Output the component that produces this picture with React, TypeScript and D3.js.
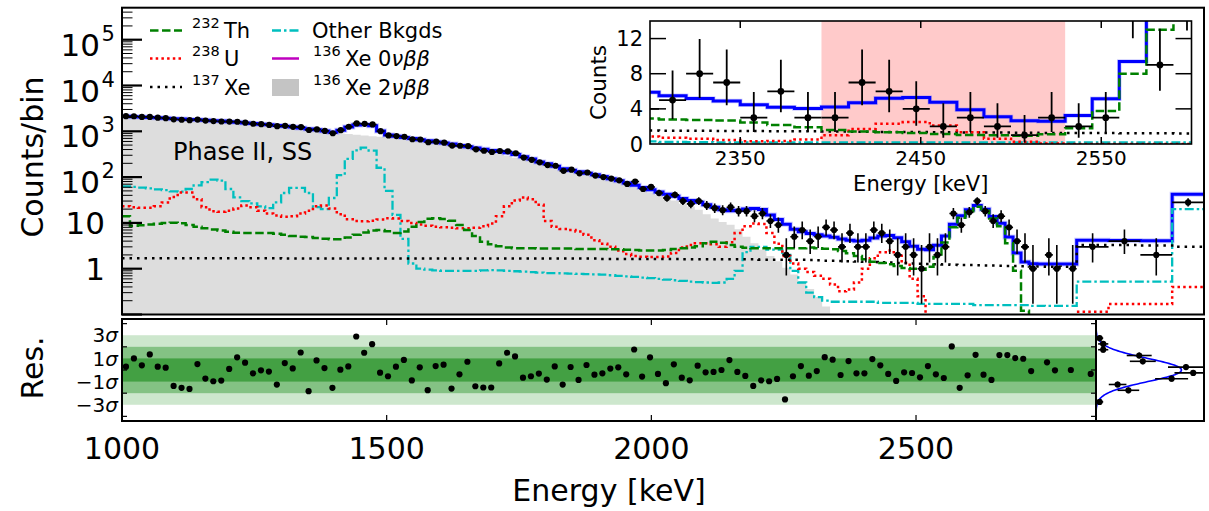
import React from 'react';
import * as d3 from 'd3';

const FONT = '"DejaVu Sans", Verdana, sans-serif';

// Binning: 15 keV bins from 1000 keV up to 2810 keV, then four wide bins
const fineStart = 1000;
const fineWidth = 15;
const fineCount = 120;
const wideEdges = [2860, 2920, 2980, 3040];

// Observed counts per bin
const dataFine = [
  2138, 2131, 2063, 2065, 1983, 1939, 1830, 1789, 1746, 1802,
  1714, 1670, 1638, 1629, 1618, 1545, 1462, 1429, 1380, 1294,
  1317, 1250, 1237, 1068, 1102, 1020, 907, 1056, 1256, 1487,
  1456, 1411, 1008, 814, 788, 760, 671, 662, 577, 594,
  565, 488, 484, 476, 404, 376, 353, 372, 366, 332,
  267, 239, 210, 183, 177, 137, 145, 121, 126, 108,
  100, 93, 85, 71, 80, 55, 61, 45, 35, 41,
  30, 26, 30, 24, 21, 19, 22, 18, 18, 14,
  16, 11, 9, 2, 5, 7, 4, 5, 8, 7,
  3, 6, 3, 3, 7, 6, 4, 2, 3, 2,
  1, 3, 2, 3, 16, 9, 17, 30, 18, 11,
  14, 8, 4, 3, 1, 0, 2, 1, 0, 1,
];
const dataWide = [3, 4, 2, 28];

// Best-fit total model
const totalFine = [
  2125, 2085, 2045, 2005, 1970, 1930, 1890, 1855, 1815, 1780,
  1745, 1710, 1675, 1625, 1575, 1520, 1473, 1430, 1385, 1340,
  1295, 1245, 1185, 1130, 1075, 1015, 955, 1055, 1245, 1380,
  1400, 1330, 1015, 830, 780, 736, 695, 656, 620, 586,
  554, 525, 492, 461, 433, 406, 383, 361, 339, 311,
  278, 248, 215, 195, 173, 153, 142, 131, 121, 112,
  103, 92, 83, 74, 66, 59, 53, 47.4, 42.5, 38,
  34, 31, 28.2, 24.8, 21.9, 19.3, 18.4, 18.8, 20.2, 20.7,
  19.5, 14.9, 11.9, 9.3, 7.3, 6.4, 5.9, 5.5, 5.19, 4.89,
  4.48, 4.19, 4.05, 4.2, 4.7, 5.2, 5.3, 4.75, 3.9, 3.1,
  2.65, 2.6, 3.25, 5.15, 9.4, 14.4, 19.4, 23.9, 19.9, 13.8,
  9.8, 4.9, 2.2, 1.4, 1.28, 1.27, 1.27, 1.26, 1.26, 1.26,
];
const totalWide = [4.2, 4.15, 4.1, 42];

// 136Xe 2vbb component
const twoNuFine = [
  2020, 1985, 1950, 1915, 1878, 1840, 1800, 1760, 1720, 1680,
  1642, 1603, 1565, 1528, 1490, 1450, 1410, 1370, 1330, 1290,
  1245, 1195, 1140, 1085, 1030, 980, 935, 900, 868, 838,
  810, 784, 760, 738, 716, 692, 664, 632, 598, 565,
  533, 503, 474, 446, 419, 385, 352, 321, 292, 266,
  243, 221, 200, 182, 163, 145, 130, 119, 110, 102.7,
  94.4, 84, 75.5, 67, 59, 52.3, 46.4, 40.9, 36, 31,
  26.2, 22.7, 19.4, 15.5, 12.5, 10.5, 9.1, 7.3, 5.0, 3.6,
  2.6, 1.9, 1.45, 1.05, 0.75, 0.52, 0.36, 0.24, 0.15, 0.09,
  0.05, 0.02, 0, 0, 0, 0, 0, 0, 0, 0,
  0, 0, 0, 0, 0, 0, 0, 0, 0, 0,
  0, 0, 0, 0, 0, 0, 0, 0, 0, 0,
];
const twoNuWide = [0, 0, 0, 0];

// 232Th component
const thFine = [
  14, 8.7, 8.9, 9.2, 9.6, 10.0, 10.1, 9.8, 9.0, 8.2,
  7.6, 7.2, 6.8, 6.4, 6.1, 6.0, 6.0, 6.0, 6.0, 5.8,
  5.5, 5.2, 5.0, 4.9, 4.7, 4.5, 4.4, 4.4, 4.8, 5.5,
  6.2, 6.8, 7.0, 6.6, 6.0, 6.5, 8.2, 10.5, 12.3, 12.6,
  12.2, 11.2, 9.0, 7.0, 5.2, 3.9, 3.4, 3.1, 2.9, 2.8,
  2.8, 2.8, 2.75, 2.75, 2.75, 2.75, 2.75, 2.7, 2.7, 2.7,
  2.7, 2.65, 2.65, 2.6, 2.55, 2.5, 2.5, 2.5, 2.55, 2.7,
  2.8, 2.9, 3.1, 3.6, 3.9, 3.7, 3.3, 3.0, 2.85, 2.8,
  2.8, 2.8, 2.8, 2.8, 2.8, 2.8, 2.9, 2.8, 2.74, 2.67,
  2.44, 2.17, 1.9, 1.6, 1.41, 1.33, 1.25, 1.14, 1.03, 1.0,
  0.95, 1.1, 1.8, 3.75, 8.0, 13, 18, 22.5, 18.5, 12.5,
  8.5, 3.6, 0.9, 0.12, 0.01, 0.01, 0.01, 0.01, 0.01, 0.01,
];
const thWide = [0.01, 0.01, 0.01, 0.01];

// 238U component
const uFine = [
  23, 22, 21.5, 21.5, 23, 28, 37, 46, 46, 33,
  22, 18, 17.5, 18.5, 20.7, 24, 22, 18.5, 16, 14.5,
  13.6, 14, 16, 18.5, 23, 24, 20.7, 15.5, 12, 11,
  10.8, 11.1, 11.8, 12.6, 12.5, 11, 10, 9.2, 8.7, 8.2,
  8.0, 7.8, 7.6, 7.6, 7.8, 8.5, 9.7, 14, 23, 31,
  36, 33, 25, 11, 8.2, 7.4, 7.0, 6.5, 5.5, 4.2,
  3.5, 3.0, 2.5, 2.1, 1.9, 1.83, 1.8, 1.8, 1.85, 2.2,
  2.9, 3.3, 3.6, 3.6, 3.4, 3.0, 3.8, 6.0, 8.5, 9.7,
  9.5, 6.0, 3.5, 1.9, 1.3, 1.0, 0.85, 0.7, 0.6, 0.45,
  0.32, 0.35, 0.5, 1.0, 1.7, 2.3, 2.5, 2.1, 1.35, 0.6,
  0.25, 0.05, 0.01, 0.01, 0.01, 0.01, 0.01, 0.01, 0.01, 0.01,
  0.01, 0.01, 0.01, 0.01, 0.01, 0.01, 0.01, 0.01, 0.01, 0.01,
];
const uWide = [0.115, 0.17, 0.17, 0.4];

// 137Xe component
const xeFine = [
  1.70, 1.70, 1.70, 1.70, 1.70, 1.70, 1.70, 1.70, 1.70, 1.70,
  1.70, 1.70, 1.70, 1.70, 1.70, 1.70, 1.70, 1.70, 1.70, 1.70,
  1.68, 1.68, 1.68, 1.68, 1.68, 1.68, 1.68, 1.68, 1.68, 1.68,
  1.68, 1.68, 1.68, 1.68, 1.68, 1.68, 1.68, 1.68, 1.68, 1.68,
  1.66, 1.66, 1.66, 1.66, 1.66, 1.66, 1.66, 1.66, 1.66, 1.66,
  1.66, 1.66, 1.66, 1.66, 1.66, 1.66, 1.66, 1.66, 1.66, 1.66,
  1.63, 1.63, 1.63, 1.63, 1.63, 1.63, 1.63, 1.63, 1.63, 1.63,
  1.60, 1.60, 1.60, 1.60, 1.60, 1.60, 1.60, 1.60, 1.60, 1.60,
  1.57, 1.57, 1.57, 1.57, 1.57, 1.57, 1.55, 1.52, 1.50, 1.49,
  1.48, 1.46, 1.44, 1.42, 1.40, 1.38, 1.36, 1.34, 1.32, 1.30,
  1.28, 1.26, 1.25, 1.24, 1.22, 1.21, 1.20, 1.19, 1.18, 1.17,
  1.16, 1.15, 1.14, 1.13, 1.12, 1.12, 1.11, 1.11, 1.10, 1.10,
];
const xeWide = [3.3, 3.3, 3.2, 3.0];

// Other backgrounds
const otherFine = [
  63, 61, 59, 57, 54, 52, 49, 48, 55, 66,
  78, 88, 84, 55, 36, 30, 26.6, 23, 21, 28,
  45, 58, 58, 45, 22, 20, 35, 110, 250, 385,
  440, 380, 160, 50, 15, 4.5, 1.3, 1.0, 0.95, 0.92,
  0.9, 0.9, 0.9, 0.9, 0.9, 0.92, 0.93, 0.92, 0.9, 0.88,
  0.86, 0.84, 0.82, 0.8, 0.8, 0.79, 0.78, 0.77, 0.76, 0.75,
  0.74, 0.72, 0.7, 0.68, 0.66, 0.64, 0.62, 0.6, 0.58, 0.56,
  0.54, 0.52, 0.51, 0.5, 0.49, 0.5, 0.6, 0.9, 2.3, 3.0,
  3.0, 2.6, 2.6, 2.0, 0.9, 0.5, 0.3, 0.24, 0.2, 0.19,
  0.19, 0.19, 0.19, 0.19, 0.19, 0.18, 0.18, 0.18, 0.18, 0.18,
  0.17, 0.17, 0.17, 0.17, 0.17, 0.17, 0.17, 0.16, 0.16, 0.16,
  0.16, 0.16, 0.16, 0.16, 0.155, 0.155, 0.154, 0.154, 0.154, 0.154,
];
const otherWide = [0.52, 0.52, 0.52, 20];

// Normalised residuals (null where the bin is empty)
const residualFine: (number | null)[] = [
  0.29, 1.0, 0.4, 1.34, 0.29, 0.2, -1.37, -1.54, -1.63, 0.51,
  -0.74, -0.97, -0.91, 0.09, 1.09, 0.63, -0.29, -0.03, -0.14, -1.26,
  0.6, 0.14, 1.51, -1.83, 0.83, 0.17, -1.54, 0.03, 0.31, 2.89,
  1.49, 2.23, -0.23, -0.54, 0.29, 0.87, -0.9, 0.23, -1.74, 0.34,
  0.46, -1.6, -0.37, 0.71, -1.4, -1.51, -1.51, 0.57, 1.49, 1.17,
  -0.66, -0.54, -0.31, -0.83, 0.31, -1.26, 0.26, -0.86, 0.43, -0.4,
  -0.29, 0.12, 0.23, -0.37, 1.77, -0.57, 1.09, -0.34, -1.14, 0.49,
  -0.66, -0.89, 0.37, -0.2, -0.17, 0, 0.86, -0.17, -0.51, -1.37,
  -0.89, -0.97, -0.77, -2.54, -0.54, 0.34, -0.49, -0.09, 1.11, 0.89,
  -0.43, 0.77, -0.29, -0.29, 0.94, 0.4, -0.34, -0.94, -0.2, -0.26,
  -0.63, 0.34, -0.37, -0.69, 2.03, -1.54, -0.46, 1.31, -0.4, -0.86,
  1.29, 1.29, 1.03, 0.97, -0.09, null, 0.66, -0.03, null, 0,
];
const residualWide: (number | null)[] = [-0.34];

// Region of interest shown in the zoomed panel (keV)
const roiRange = [2395, 2530];

// Axis ticks
const countTicks = [1e5, 1e4, 1e3, 1e2, 10, 1];
const energyTicks = [1000, 1500, 2000, 2500];
const sigmaTicks = [-4, -2, 0, 2, 4];
const sigmaLabels = [3, 1, -1, -3];
const insetEnergyTicks = [2350, 2450, 2550];
const insetCountTicks = [0, 4, 8, 12];

// Residual histogram model: unit Gaussian, bins of 0.5 sigma
const gaussMean = 0;
const gaussSigma = 1;
const histBinWidth = 0.5;

// Approximate 68% central Poisson interval for n observed counts
function poissonBand(n: number): [number, number] {
  if (n <= 0) return [0, 1.84];
  const lo = n * Math.pow(1 - 1 / (9 * n) - 1 / (3 * Math.sqrt(n)), 3);
  const m = n + 1;
  const hi = m * Math.pow(1 - 1 / (9 * m) + 1 / (3 * Math.sqrt(m)), 3);
  return [lo, hi];
}

const COLORS = {
  total: '#0000ff',
  th: '#008000',
  u: '#ff0000',
  xe: '#000000',
  other: '#00bfbf',
  zeroNu: '#bf00bf',
  twoNuFill: '#dddddd',
  twoNuLegend: '#c4c4c4',
  roi: '#ffcaca',
  band1: '#43a043',
  band2: '#84c284',
  band3: '#cde7cd',
};

export default function App() {
  const main = { l: 122, r: 1204, t: 7.7, b: 314.5 };
  const res = { l: 122, r: 1096, t: 319, b: 421 };
  const side = { l: 1096, r: 1204 };
  const ins = { l: 650, r: 1191.5, t: 21, b: 144 };

  const edges = d3.range(fineCount + 1).map((i) => fineStart + i * fineWidth).concat(wideEdges);
  const centers = edges.slice(0, -1).map((e, i) => (e + edges[i + 1]) / 2);

  const counts = dataFine.concat(dataWide);
  const total = totalFine.concat(totalWide);
  const twoNu = twoNuFine.concat(twoNuWide);
  const th = thFine.concat(thWide);
  const u = uFine.concat(uWide);
  const xe = xeFine.concat(xeWide);
  const other = otherFine.concat(otherWide);
  const residuals = residualFine.concat(residualWide);

  const x = d3.scaleLinear().domain([1000, 3040]).range([main.l, main.r]);
  const y = d3.scaleLog().domain([0.1, 5e5]).range([main.b, main.t]);
  const xr = d3.scaleLinear().domain([1000, 2840]).range([res.l, res.r]);
  const yr = d3.scaleLinear().domain([-4.4, 4.4]).range([res.b, res.t]);
  const xs = d3.scaleLinear().domain([0, 30]).range([side.l, side.r]);
  const xi = d3.scaleLinear().domain([2300, 2600]).range([ins.l, ins.r]);
  const yi = d3.scaleLinear().domain([0, 14]).range([ins.b, ins.t]);

  const pts = (vals: number[]) =>
    edges.map((e, i) => [e, vals[Math.min(i, vals.length - 1)]] as [number, number]);
  const logStep = d3
    .line<[number, number]>()
    .x((d) => x(d[0]))
    .y((d) => y(Math.max(d[1], 0.02)))
    .curve(d3.curveStepAfter);
  const linStep = d3
    .line<[number, number]>()
    .x((d) => xi(d[0]))
    .y((d) => yi(d[1]))
    .curve(d3.curveStepAfter);
  const grayArea = d3
    .area<[number, number]>()
    .x((d) => x(d[0]))
    .y0(main.b + 3)
    .y1((d) => y(Math.max(d[1], 0.02)))
    .curve(d3.curveStepAfter);

  const lineStyles = {
    th: { stroke: COLORS.th, strokeWidth: 2.5, strokeDasharray: '8.5 3.5' },
    u: { stroke: COLORS.u, strokeWidth: 2.5, strokeDasharray: '2.5 3.2' },
    xe: { stroke: COLORS.xe, strokeWidth: 2.5, strokeDasharray: '2.5 5' },
    other: { stroke: COLORS.other, strokeWidth: 2.3, strokeDasharray: '9 3 2.5 3' },
  };

  // residual histogram for the side panel
  const resVals = residuals.filter((r): r is number => r !== null);
  const binner = d3.bin().domain([-3, 3]).thresholds(d3.range(-2.5, 3, 0.5));
  const resBins = binner(resVals).filter((b) => b.length > 0);
  const gaussNorm = resVals.length * histBinWidth;
  const gaussPath = d3
    .line<number>()
    .x((r) =>
      xs(
        (gaussNorm * Math.exp(-0.5 * ((r - gaussMean) / gaussSigma) ** 2)) /
          (gaussSigma * Math.sqrt(2 * Math.PI))
      )
    )
    .y((r) => yr(r))(d3.range(-4.4, 4.401, 0.05));

  const mainPoints = centers
    .map((c, i) => ({ c, i, n: counts[i] }))
    .filter((p) => p.n > 0);

  const insetPoints = mainPoints.filter((p) => edges[p.i + 1] > 2300 && edges[p.i] < 2600);

  const resPoints = residuals
    .map((r, i) => ({ r, c: centers[i] }))
    .filter((p) => p.r !== null) as { r: number; c: number }[];

  const supLabel = (v: number) => Math.round(Math.log10(v));

  return (
    <svg
      width={1209}
      height={511}
      viewBox="0 0 1209 511"
      style={{ position: 'absolute', left: 0, top: 0, background: '#fff' }}
      fontFamily={FONT}
    >
      <defs>
        <clipPath id="clip-main">
          <rect x={main.l} y={main.t} width={main.r - main.l} height={main.b - main.t} />
        </clipPath>
        <clipPath id="clip-res">
          <rect x={res.l} y={res.t} width={res.r - res.l} height={res.b - res.t} />
        </clipPath>
        <clipPath id="clip-side">
          <rect x={side.l} y={res.t} width={side.r - side.l} height={res.b - res.t} />
        </clipPath>
        <clipPath id="clip-inset">
          <rect x={ins.l} y={ins.t} width={ins.r - ins.l} height={ins.b - ins.t} />
        </clipPath>
      </defs>

      <rect x={0} y={0} width={1209} height={511} fill="#fff" />

      {/* ---------- spectrum panel ---------- */}
      <g clipPath="url(#clip-main)">
        <path d={grayArea(pts(twoNu)) || ''} fill={COLORS.twoNuFill} />
        <path d={logStep(pts(total)) || ''} fill="none" stroke="#7070ff" strokeOpacity={0.35} strokeWidth={5} />
        <path d={logStep(pts(total)) || ''} fill="none" stroke={COLORS.total} strokeWidth={3} />
        <path d={logStep(pts(other)) || ''} fill="none" {...lineStyles.other} />
        <path d={logStep(pts(u)) || ''} fill="none" {...lineStyles.u} />
        <path d={logStep(pts(xe)) || ''} fill="none" {...lineStyles.xe} />
        <path d={logStep(pts(th)) || ''} fill="none" {...lineStyles.th} />
        {mainPoints.map((p) => {
          const [lo, hi] = poissonBand(p.n);
          return (
            <g key={`mp${p.i}`}>
              <line x1={x(p.c)} x2={x(p.c)} y1={y(Math.max(lo, 0.03))} y2={y(hi)} stroke="#000" strokeWidth={1.6} />
              <line x1={x(edges[p.i])} x2={x(edges[p.i + 1])} y1={y(p.n)} y2={y(p.n)} stroke="#000" strokeWidth={1.6} />
              <circle cx={x(p.c)} cy={y(p.n)} r={3.1} fill="#000" />
            </g>
          );
        })}
      </g>

      {/* y ticks of the spectrum panel */}
      {d3.range(-1, 6).map((e) => {
        const v = Math.pow(10, e);
        return (
          <line key={`maj${e}`} x1={main.l} x2={main.l + 20} y1={y(v)} y2={y(v)} stroke="#000" strokeWidth={2.2} />
        );
      })}
      {d3.range(-1, 6).flatMap((e) =>
        d3
          .range(2, 10)
          .map((m) => m * Math.pow(10, e))
          .filter((v) => v < 5e5)
          .map((v) => (
            <line key={`min${v}`} x1={main.l} x2={main.l + 10.5} y1={y(v)} y2={y(v)} stroke="#000" strokeWidth={1} />
          ))
      )}
      {countTicks.map((v) => {
        const e = supLabel(v);
        if (e >= 2) {
          return (
            <g key={`yl${v}`}>
              <text x={100} y={y(v) + 16} fontSize={31} textAnchor="end">10</text>
              <text x={101.5} y={y(v) + 1} fontSize={21}>{e}</text>
            </g>
          );
        }
        return (
          <text key={`yl${v}`} x={105} y={y(v) + 11.3} fontSize={31} textAnchor="end">
            {String(v)}
          </text>
        );
      })}

      <rect x={main.l} y={main.t} width={main.r - main.l} height={main.b - main.t} fill="none" stroke="#000" strokeWidth={2} />

      <text x={43} y={157} fontSize={30} textAnchor="middle" transform="rotate(-90 43 157)">
        Counts/bin
      </text>

      <text x={173} y={160} fontSize={24}>Phase II, SS</text>

      {/* legend */}
      <g>
        <line x1={150} x2={182} y1={30.5} y2={30.5} {...lineStyles.th} />
        <text x={192} y={27.5} fontSize={14.5}>232</text>
        <text x={224} y={37.5} fontSize={21}>Th</text>

        <line x1={150} x2={182} y1={58.5} y2={58.5} {...lineStyles.u} />
        <text x={192} y={55.5} fontSize={14.5}>238</text>
        <text x={224} y={65.5} fontSize={21}>U</text>

        <line x1={150} x2={182} y1={87} y2={87} {...lineStyles.xe} />
        <text x={192} y={84.5} fontSize={14.5}>137</text>
        <text x={224} y={94.5} fontSize={21}>Xe</text>

        <line x1={272} x2={301} y1={30.5} y2={30.5} {...lineStyles.other} />
        <text x={312} y={37.5} fontSize={21}>Other Bkgds</text>

        <line x1={272} x2={299} y1={58.5} y2={58.5} stroke={COLORS.zeroNu} strokeWidth={2.5} />
        <text x={313} y={55.5} fontSize={14.5}>136</text>
        <text x={345} y={65.5} fontSize={21}>
          Xe 0<tspan fontStyle="italic">νββ</tspan>
        </text>

        <rect x={272} y={79} width={27} height={17} fill={COLORS.twoNuLegend} />
        <text x={313} y={84.5} fontSize={14.5}>136</text>
        <text x={345} y={94.5} fontSize={21}>
          Xe 2<tspan fontStyle="italic">νββ</tspan>
        </text>
      </g>

      {/* ---------- zoomed ROI panel ---------- */}
      <rect x={ins.l} y={ins.t} width={ins.r - ins.l} height={ins.b - ins.t} fill="#fff" />
      <g clipPath="url(#clip-inset)">
        <rect x={xi(roiRange[0])} y={ins.t} width={xi(roiRange[1]) - xi(roiRange[0])} height={ins.b - ins.t} fill={COLORS.roi} />
        <path d={linStep(pts(other)) || ''} fill="none" {...lineStyles.other} />
        <path d={linStep(pts(xe)) || ''} fill="none" {...lineStyles.xe} />
        <path d={linStep(pts(u)) || ''} fill="none" {...lineStyles.u} />
        <path d={linStep(pts(total)) || ''} fill="none" stroke="#7070ff" strokeOpacity={0.35} strokeWidth={4.5} />
        <path d={linStep(pts(total)) || ''} fill="none" stroke={COLORS.total} strokeWidth={3} />
        <path d={linStep(pts(th)) || ''} fill="none" {...lineStyles.th} />
        {insetPoints.map((p) => {
          const [lo, hi] = poissonBand(p.n);
          return (
            <g key={`ip${p.i}`}>
              <line x1={xi(p.c)} x2={xi(p.c)} y1={yi(lo)} y2={yi(hi)} stroke="#000" strokeWidth={1.8} />
              <line x1={xi(edges[p.i])} x2={xi(edges[p.i + 1])} y1={yi(p.n)} y2={yi(p.n)} stroke="#000" strokeWidth={1.8} />
              <circle cx={xi(p.c)} cy={yi(p.n)} r={3.4} fill="#000" />
            </g>
          );
        })}
      </g>
      {insetCountTicks.filter((v) => v > 0).map((v) => (
        <g key={`it${v}`}>
          <line x1={ins.l} x2={ins.l + 16} y1={yi(v)} y2={yi(v)} stroke="#000" strokeWidth={1.5} />
          <line x1={ins.r - 16} x2={ins.r} y1={yi(v)} y2={yi(v)} stroke="#000" strokeWidth={1.5} />
        </g>
      ))}
      {insetEnergyTicks.map((v) => (
        <g key={`ix${v}`}>
          <line x1={xi(v)} x2={xi(v)} y1={ins.t} y2={ins.t + 7} stroke="#000" strokeWidth={1.5} />
          <line x1={xi(v)} x2={xi(v)} y1={ins.b - 7} y2={ins.b} stroke="#000" strokeWidth={1.5} />
          <text x={xi(v)} y={164.5} fontSize={20} textAnchor="middle">{v}</text>
        </g>
      ))}
      {insetCountTicks.map((v) => (
        <text key={`iyl${v}`} x={643} y={yi(v) + 7.6} fontSize={21} textAnchor="end">{v}</text>
      ))}
      <rect x={ins.l} y={ins.t} width={ins.r - ins.l} height={ins.b - ins.t} fill="none" stroke="#000" strokeWidth={1.6} />
      <text x={(ins.l + ins.r) / 2} y={190.5} fontSize={21} textAnchor="middle">Energy [keV]</text>
      <text x={606} y={(ins.t + ins.b) / 2} fontSize={21.5} textAnchor="middle" transform={`rotate(-90 606 ${(ins.t + ins.b) / 2})`}>
        Counts
      </text>

      {/* ---------- residual panel ---------- */}
      <rect x={res.l} y={yr(3)} width={res.r - res.l} height={yr(-3) - yr(3)} fill={COLORS.band3} />
      <rect x={res.l} y={yr(2)} width={res.r - res.l} height={yr(-2) - yr(2)} fill={COLORS.band2} />
      <rect x={res.l} y={yr(1)} width={res.r - res.l} height={yr(-1) - yr(1)} fill={COLORS.band1} />
      <g clipPath="url(#clip-res)">
        {resPoints.map((p, i) => (
          <circle key={`rp${i}`} cx={xr(p.c)} cy={yr(p.r)} r={3.1} fill="#000" />
        ))}
      </g>
      {sigmaTicks.map((v) => (
        <g key={`st${v}`}>
          <line x1={res.l} x2={res.l + 5} y1={yr(v)} y2={yr(v)} stroke="#000" strokeWidth={1.2} />
          <line x1={res.r - 5} x2={res.r} y1={yr(v)} y2={yr(v)} stroke="#000" strokeWidth={1.2} />
        </g>
      ))}
      {energyTicks.filter((v) => v > 1000).map((v) => (
        <g key={`rx${v}`}>
          <line x1={xr(v)} x2={xr(v)} y1={res.t} y2={res.t + 6} stroke="#000" strokeWidth={1.2} />
          <line x1={xr(v)} x2={xr(v)} y1={res.b - 6} y2={res.b} stroke="#000" strokeWidth={1.2} />
        </g>
      ))}
      {sigmaLabels.map((v) => (
        <text key={`sl${v}`} x={118} y={yr(v) + 7.2} fontSize={20} textAnchor="end">
          {v < 0 ? '\u2212' : ''}
          {Math.abs(v)}
          <tspan fontStyle="italic">σ</tspan>
        </text>
      ))}
      <rect x={res.l} y={res.t} width={res.r - res.l} height={res.b - res.t} fill="none" stroke="#000" strokeWidth={2} />

      {/* residual distribution */}
      <g clipPath="url(#clip-side)">
        <path d={gaussPath || ''} fill="none" stroke={COLORS.total} strokeWidth={1.6} />
        {resBins.map((b, i) => {
          const n = b.length;
          const mid = ((b.x0 as number) + (b.x1 as number)) / 2;
          return (
            <g key={`hb${i}`}>
              <line x1={xs(n - Math.sqrt(n))} x2={xs(n + Math.sqrt(n))} y1={yr(mid)} y2={yr(mid)} stroke="#000" strokeWidth={1.6} />
              <line x1={xs(n)} x2={xs(n)} y1={yr(b.x0 as number)} y2={yr(b.x1 as number)} stroke="#000" strokeWidth={1.6} />
              <circle cx={xs(n)} cy={yr(mid)} r={3.1} fill="#000" />
            </g>
          );
        })}
      </g>
      <rect x={side.l} y={res.t} width={side.r - side.l} height={res.b - res.t} fill="none" stroke="#000" strokeWidth={2} />

      {energyTicks.map((v) => (
        <text key={`xl${v}`} x={xr(v)} y={459} fontSize={30} textAnchor="middle">{v}</text>
      ))}
      <text x={(res.l + res.r) / 2} y={501} fontSize={30} textAnchor="middle">Energy [keV]</text>
      <text x={43} y={368} fontSize={30} textAnchor="middle" transform="rotate(-90 43 368)">Res.</text>
    </svg>
  );
}
